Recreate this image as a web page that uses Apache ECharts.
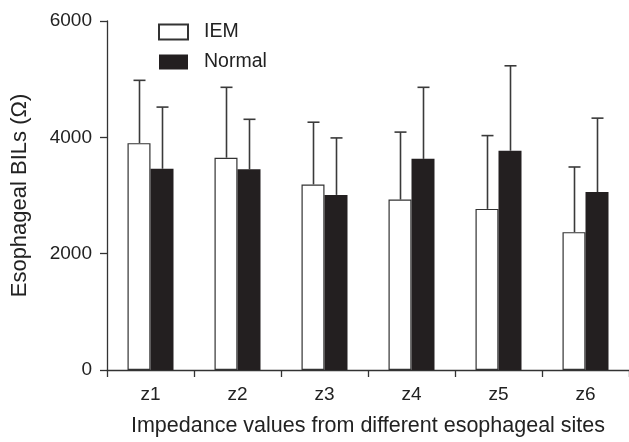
<!DOCTYPE html>
<html>
<head>
<meta charset="utf-8">
<script src="https://cdn.jsdelivr.net/npm/echarts@6/dist/echarts.min.js"></script>
<style>
  html, body { margin: 0; padding: 0; background: #fff; }
  #chart { width: 629px; height: 442px; }
</style>
</head>
<body>
<div id="chart"></div>
<script>
// sites along the esophagus
const sites = ['z1', 'z2', 'z3', 'z4', 'z5', 'z6'];

// mean baseline impedance (ohm)
const iemMean = [3900, 3650, 3190, 2930, 2770, 2370];
const normalMean = [3460, 3450, 3010, 3630, 3770, 3060];

// top of the error bar (mean + SD)
const iemUpper = [4980, 4860, 4260, 4090, 4030, 3490];
const normalUpper = [4520, 4310, 3990, 4860, 5230, 4330];

const yTicks = [0, 2000, 4000, 6000];

const BAR_W = 23;
const FONT = 'Liberation Sans, Arial, sans-serif';
const AXIS_COLOR = '#333';
const TEXT_COLOR = '#222';

function errorBar(offset) {
    return function (params, api) {
        const cat = api.value(0);
        const mean = api.value(1);
        const upper = api.value(2);
        const p0 = api.coord([cat, mean]);
        const p1 = api.coord([cat, upper]);
        const x = Math.round(p0[0] + offset) + 0.5;
        const style = { stroke: '#3a3a3a', lineWidth: 1.6 };
        return {
            type: 'group',
            children: [
                { type: 'line', shape: { x1: x, y1: p0[1], x2: x, y2: p1[1] }, style: style },
                { type: 'line', shape: { x1: x - 6, y1: p1[1], x2: x + 6, y2: p1[1] }, style: style }
            ]
        };
    };
}

const chart = echarts.init(document.getElementById('chart'));

chart.setOption({
    animation: false,
    backgroundColor: '#fff',
    textStyle: { fontFamily: FONT },
    grid: { left: 107, top: 21, width: 526, bottom: 69 },
    legend: {
        orient: 'vertical',
        left: 158,
        top: 22,
        padding: 0,
        itemWidth: 29,
        itemHeight: 15,
        itemGap: 10,
        icon: 'rect',
        data: ['IEM', 'Normal'],
        textStyle: { fontSize: 19.5, color: TEXT_COLOR, fontFamily: FONT, padding: [0, 0, 0, 11] }
    },
    xAxis: {
        type: 'category',
        data: sites,
        name: 'Impedance values from different esophageal sites',
        nameLocation: 'middle',
        nameGap: 45,
        nameTextStyle: { fontSize: 21.5, color: TEXT_COLOR, fontFamily: FONT },
        axisLine: { lineStyle: { color: AXIS_COLOR, width: 1.3 } },
        axisTick: { show: true, length: 7, lineStyle: { color: AXIS_COLOR, width: 1.3 } },
        axisLabel: { fontSize: 19, color: TEXT_COLOR, margin: 15, fontFamily: FONT },
        splitLine: { show: false }
    },
    yAxis: {
        type: 'value',
        min: yTicks[0],
        max: yTicks[yTicks.length - 1],
        interval: 2000,
        name: 'Esophageal BILs (Ω)',
        nameLocation: 'middle',
        nameGap: 76,
        nameTextStyle: { fontSize: 22, color: TEXT_COLOR, fontFamily: FONT },
        axisLine: { show: true, lineStyle: { color: AXIS_COLOR, width: 1.3 } },
        axisTick: { show: true, length: 7, lineStyle: { color: AXIS_COLOR, width: 1.3 } },
        axisLabel: {
            fontSize: 19,
            color: TEXT_COLOR,
            margin: 15,
            fontFamily: FONT,
            formatter: v => String(v)
        },
        splitLine: { show: false }
    },
    series: [
        {
            name: 'IEM',
            type: 'bar',
            data: iemMean,
            barWidth: BAR_W,
            barGap: '0%',
            itemStyle: { color: '#fff', borderColor: '#333', borderWidth: 1.2 }
        },
        {
            name: 'Normal',
            type: 'bar',
            data: normalMean,
            barWidth: BAR_W,
            barGap: '0%',
            itemStyle: { color: '#231f20' }
        },
        {
            name: 'IEM err',
            type: 'custom',
            renderItem: errorBar(-BAR_W / 2),
            data: sites.map((s, i) => [i, iemMean[i], iemUpper[i]]),
            z: 1
        },
        {
            name: 'Normal err',
            type: 'custom',
            renderItem: errorBar(BAR_W / 2),
            data: sites.map((s, i) => [i, normalMean[i], normalUpper[i]]),
            z: 1
        }
    ]
});
</script>
</body>
</html>
